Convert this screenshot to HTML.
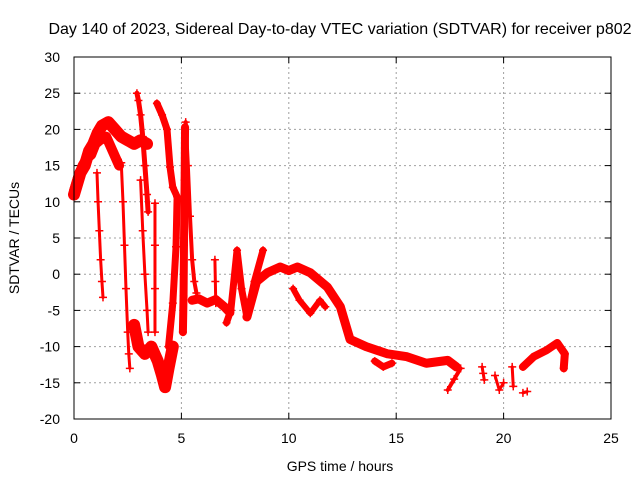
<!DOCTYPE html>
<html><head><meta charset="utf-8"><style>
body{margin:0;background:#fff;}
svg text{font-family:"Liberation Sans",sans-serif;font-size:14px;fill:#000;}
</style></head><body>
<svg id="chart" width="640" height="480">
<text x="340" y="34" text-anchor="middle" style="font-size:16px">Day 140 of 2023, Sidereal Day-to-day VTEC variation (SDTVAR) for receiver p802</text>
<text x="340" y="471" text-anchor="middle">GPS time / hours</text>
<text x="0" y="0" text-anchor="middle" transform="translate(19,238) rotate(-90)">SDTVAR / TECUs</text>
<g id="grid"></g>
<g id="ticks"></g>
<g id="marks"></g>
<rect x="74" y="57" width="537" height="362" fill="none" stroke="#000" stroke-width="1"/>
</svg>
<script>
const xTicks=[0,5,10,15,20,25];
const yTicks=[-20,-15,-10,-5,0,5,10,15,20,25,30];
// tracks: hours and values (SDTVAR, TECU)
const trackHours=[
[0,0.15,0.3,0.5,0.7,0.9,1.1,1.3,1.6,1.9,2.2,2.5,2.8,3.1,3.4],
[0,0.2,0.4,0.6,0.8,1.0,1.2,1.5,1.8,2.1],
[1.07,1.12,1.18,1.24,1.3,1.35],
[2.2,2.28,2.35,2.42,2.5,2.55,2.6],
[2.93,3.0,3.1,3.2,3.3,3.4,3.45],
[3.1,3.2,3.3,3.4,3.45],
[3.77,3.77,3.77,3.77],
[2.8,3.0,3.3,3.6,3.9,4.1,4.24,4.4,4.6],
[3.86,4.1,4.33,4.47,4.6,4.8,4.75,4.6,4.4],
[5.07,5.1,5.12,5.15,5.17],
[5.2,5.3,5.4,5.5,5.6,5.7],
[5.5,5.8,6.2,6.6,7.0,7.26],
[6.56,6.58,6.6],
[7.1,7.3,7.59,7.8,8.05,8.4,8.8],
[8.05,8.5,9.0,9.6,10.0,10.4,11.0,11.8,12.4,12.85,13.6,14.6,15.5,16.4,17.4,17.8],
[10.2,10.5,11.0,11.45,11.7],
[14.0,14.4,14.8],
[17.4,17.7,18.0],
[19.0,19.05,19.1],
[19.6,19.8,20.0],
[20.4,20.45],
[20.9,21.1],
[20.9,21.4,22.0,22.5,22.85,22.8]
];
const trackValues=[
[11,12.5,14,15,17,18,19.5,20.5,21,20,19,18.5,18,18.5,18],
[11.5,13.5,15,16,16.5,18,18.5,19,17,15],
[14,10,6,2,-1,-3.2],
[15.4,10,4,-2,-8,-11,-13],
[25,24,22,19,15,11,8.6],
[13,6,0,-5,-8],
[9.8,4,-2,-8],
[-7,-10,-11,-10,-12,-14,-15.6,-13,-10],
[23.6,22,20,14.8,12,10.7,3.8,-4,-10],
[-8,-3,4,13,20.3],
[21,15,8,2,-1,-2.6],
[-3.6,-3.4,-4,-3.5,-4.5,-5.3],
[2,-1,-4],
[-6.7,-5,3.3,-2,-5.9,-1,3.3],
[-5.9,-1,0.2,1,0.5,1,0.2,-1.8,-4.5,-9,-10,-11,-11.4,-12.3,-11.9,-12.8],
[-2,-3.6,-5.4,-3.6,-4.5],
[-12,-12.8,-12.3],
[-16,-14.5,-13],
[-12.8,-13.7,-14.6],
[-14,-16,-15],
[-12.8,-15.5],
[-16.4,-16.2],
[-12.8,-11.4,-10.5,-9.5,-11,-13]
];
const trackWidths=[12,10,3,3,5,3,3,12,7,8,4,9,3,7,9,6,7,4,3,3,3,3,8];
const X0=74,X1=611,Y0=419,Y1=57;
const xs=h=>X0+(h-0)/(25-0)*(X1-X0);
const ys=v=>Y0-(v+20)/(50)*(Y0-Y1);
const NS="http://www.w3.org/2000/svg";
const grid=document.getElementById('grid'),ticks=document.getElementById('ticks'),marks=document.getElementById('marks');
function mk(t,a,p){const e=document.createElementNS(NS,t);for(const k in a)e.setAttribute(k,a[k]);p.appendChild(e);return e;}
xTicks.forEach(t=>{
 const x=xs(t);
 if(t>0&&t<25){const g=mk('line',{x1:x,y1:Y1,x2:x,y2:Y0,stroke:'#a0a0a0','stroke-dasharray':'2,3'},grid);
 
 }
 mk('line',{x1:x,y1:Y0,x2:x,y2:Y0-6,stroke:'#000'},ticks);
 mk('line',{x1:x,y1:Y1,x2:x,y2:Y1+6,stroke:'#000'},ticks);
 const l=mk('text',{x:x,y:Y0+24,'text-anchor':'middle'},ticks);l.textContent=t;
 
 
});
yTicks.forEach(t=>{
 const y=ys(t);
 if(t>-20&&t<30){const g=mk('line',{x1:X0,y1:y,x2:X1,y2:y,stroke:'#a0a0a0','stroke-dasharray':'2,3'},grid);
 
 }
 mk('line',{x1:X0,y1:y,x2:X0+6,y2:y,stroke:'#000'},ticks);
 mk('line',{x1:X1,y1:y,x2:X1-6,y2:y,stroke:'#000'},ticks);
 const l=mk('text',{x:X0-14,y:y+5,'text-anchor':'end'},ticks);l.textContent=t;
 
 
});
trackHours.forEach((hs,i)=>{
 const vs=trackValues[i];
 const pts=hs.map((h,j)=>xs(h)+','+ys(vs[j])).join(' ');
 const pl=mk('polyline',{points:pts,fill:'none',stroke:'#ff0000','stroke-width':trackWidths[i],'stroke-linejoin':'round','stroke-linecap':'round'},marks);
 
 
 hs.forEach((h,j)=>{
  const x=xs(h),y=ys(vs[j]);
  const p=mk('path',{d:`M${x-4},${y}H${x+4}M${x},${y-4}V${y+4}`,stroke:'#ff0000','stroke-width':1.5},marks);
  
  
 });
});
</script>
</body></html>
